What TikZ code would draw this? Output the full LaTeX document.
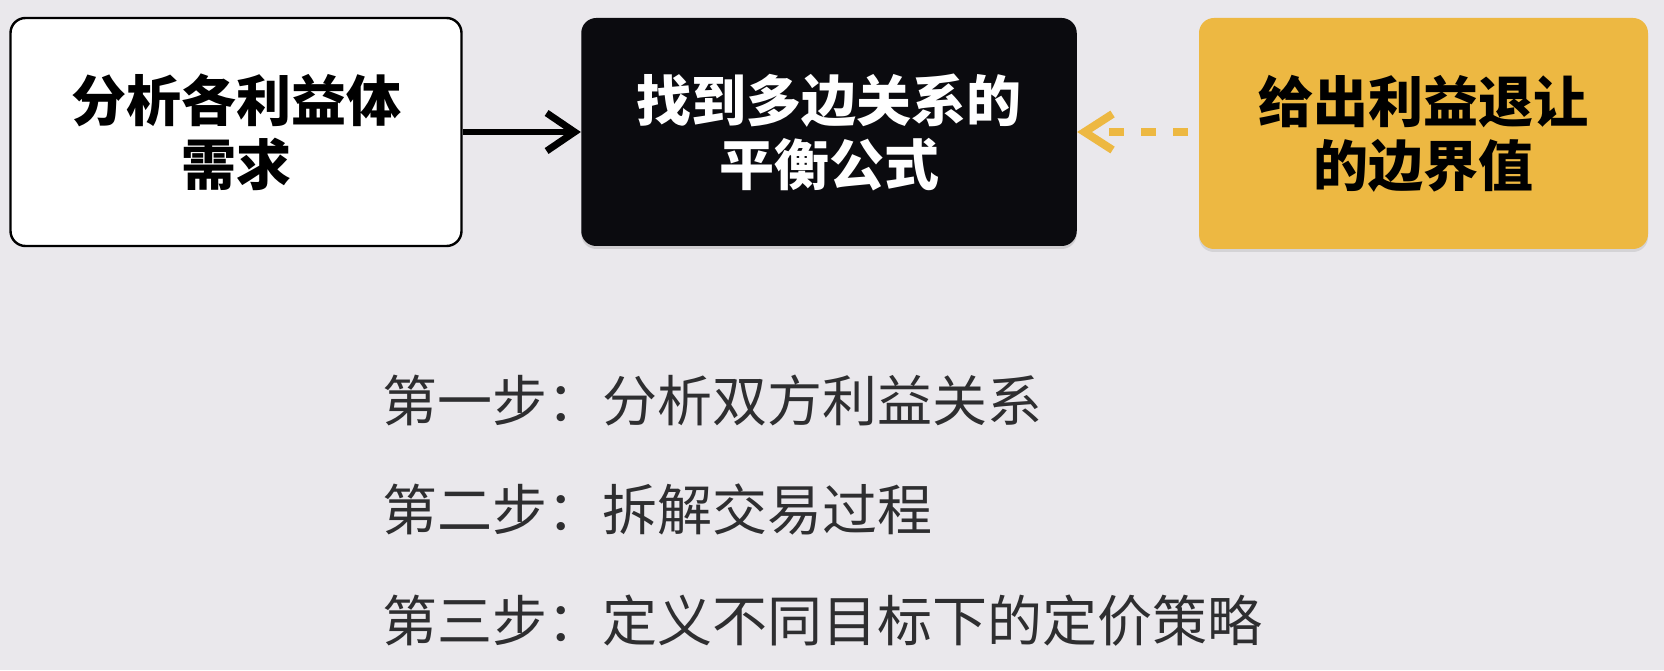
\documentclass[tikz,border=0pt]{standalone}
\usepackage{fontspec}
\newfontfamily\cjk{Noto Sans CJK SC}
\usepackage{tikz}
\usetikzlibrary{arrows.meta,positioning,shadows}

\definecolor{bgcol}{HTML}{EAE8EC}
\definecolor{goldcol}{HTML}{EDB842}
\definecolor{inkcol}{HTML}{0B0B0F}
\definecolor{stepcol}{HTML}{2E2E30}

\tikzset{
  boxbase/.style={rounded corners=7.5pt, align=center, inner sep=0pt,
    minimum height=114pt, font=\cjk\bfseries\fontsize{27.5}{32}\selectfont},
  needbox/.style={boxbase, draw=black, line width=1.2pt, fill=white,
    minimum width=225.5pt},
  corebox/.style={boxbase, fill=inkcol, text=white, minimum width=247.75pt,
    drop shadow={opacity=0.25, shadow xshift=0pt, shadow yshift=-1.5pt}},
  boundbox/.style={boxbase, fill=goldcol, text=black, minimum width=224.5pt,
    minimum height=115.5pt,
    drop shadow={opacity=0.2, shadow xshift=0pt, shadow yshift=-1.5pt}},
  flow/.style={-{Straight Barb[length=14pt, width=19pt, line width=3.5pt]},
    line width=2.8pt, black},
  backflow/.style={-{Straight Barb[length=14pt, width=18pt, line width=4pt]},
    line width=4pt, goldcol, dash pattern=on 7.5pt off 8.5pt},
  steptext/.style={anchor=west, inner sep=0pt, text=stepcol,
    font=\cjk\fontsize{27.5}{32}\selectfont}
}

\begin{document}
\begin{tikzpicture}[x=0.5pt, y=0.5pt]
    % background and page size
    \fill[bgcol] (0,0) rectangle (1664,670);

    % the three boxes
    \node[needbox]  (needs)   at (236,538)    {分析各利益体\\需求};
    \node[corebox]  (balance) at (829,538)    {找到多边关系的\\平衡公式};
    \node[boundbox] (bound)   at (1423.5,536.5) {给出利益退让\\的边界值};

    % connectors
    \coordinate (dashstart) at ([xshift=-5.5pt]bound.west |- balance);
    \draw[flow] (needs) -- (balance);
    \draw[backflow] (dashstart) -- (balance);

    % steps
    \node[steptext] (step1) at (382,269) {第一步：分析双方利益关系};
    \node[steptext] (step2) at (382,161) {第二步：拆解交易过程};
    \node[steptext] (step3) at (382,49)  {第三步：定义不同目标下的定价策略};
\end{tikzpicture}
\end{document}
